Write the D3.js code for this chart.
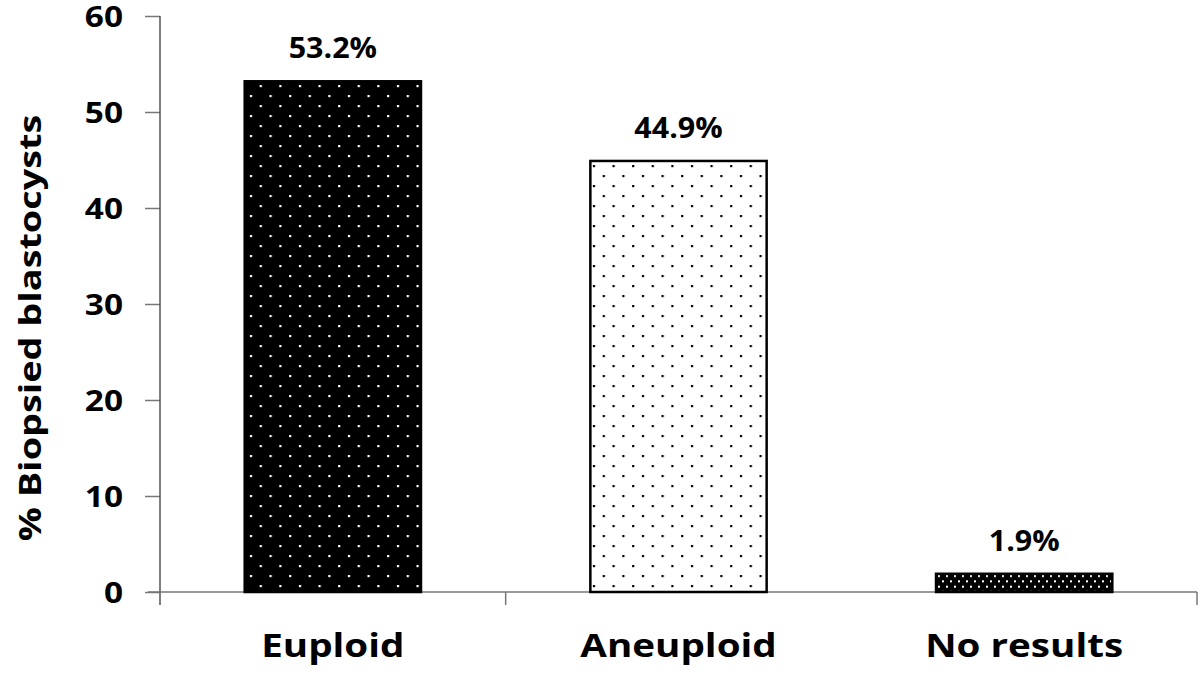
<!DOCTYPE html>
<html><head><meta charset="utf-8">
<script src="https://cdn.jsdelivr.net/npm/d3@7"></script>
<style>body{margin:0;background:#fff}svg{display:block}text{font-family:"Open Sans",Lato,sans-serif;font-weight:bold}</style>
</head><body><div id="c"></div>
<script>
const categories = ["Euploid", "Aneuploid", "No results"];
const values = [53.2, 44.9, 1.9];
const valueLabels = ["53.2%", "44.9%", "1.9%"];
const yTicks = [0, 10, 20, 30, 40, 50, 60];
const yTitle = "% Biopsied blastocysts";

const W = 1200, H = 676;
const m = {left: 160, right: 3, top: 16, bottom: 84};
const svg = d3.select("#c").append("svg").attr("width", W).attr("height", H);
const defs = svg.append("defs");
function pat(id, bg, fg, dx, dy, r) {
  const p = defs.append("pattern").attr("id", id).attr("patternUnits", "userSpaceOnUse")
    .attr("width", dx).attr("height", dy * 2);
  p.append("rect").attr("width", dx).attr("height", dy * 2).attr("fill", bg);
  p.append("rect").attr("x", dx / 4).attr("y", dy / 2).attr("width", r).attr("height", r).attr("fill", fg);
  p.append("rect").attr("x", dx * 3 / 4).attr("y", dy * 1.5).attr("width", r).attr("height", r).attr("fill", fg);
}
pat("p0", "#000", "#fff", 19.6, 10, 2.2);
pat("p1", "#fff", "#000", 19.6, 10, 2.2);
pat("p2", "#000", "#fff", 8, 5.3, 2);
const fills = ["url(#p0)", "url(#p1)", "url(#p2)"];

const x = d3.scaleBand().domain(categories).range([m.left, W - m.right]).paddingInner(0.49).paddingOuter(0.245);
const y = d3.scaleLinear().domain([0, 60]).range([H - m.bottom, m.top]);

// y axis
const ya = svg.append("g").attr("transform", `translate(${m.left},0)`)
  .call(d3.axisLeft(y).tickValues(yTicks).tickSize(15));
ya.select(".domain").remove();
ya.selectAll(".tick line").attr("stroke", "#777").attr("stroke-width", 1.5);
ya.selectAll(".tick text").attr("x", 0).attr("dy", null).attr("y", 10)
  .attr("transform", "translate(-37,0) scale(1.15,1)")
  .attr("font-size", 29).attr("fill", "#000");
svg.append("line").attr("x1", m.left).attr("x2", m.left).attr("y1", y(60)).attr("y2", y(0) + 13)
  .attr("stroke", "#555").attr("stroke-width", 1.5);

// x axis
svg.append("line").attr("x1", m.left - 12).attr("x2", W - m.right).attr("y1", y(0)).attr("y2", y(0))
  .attr("stroke", "#777").attr("stroke-width", 1.5);
const step = x.step();
const bounds = categories.map((c, i) => x(c) - x.paddingOuter() * step + (i + 1) * step);
svg.selectAll(".xt").data(bounds).enter().append("line")
  .attr("x1", d => d).attr("x2", d => d).attr("y1", y(0)).attr("y2", y(0) + 13)
  .attr("stroke", "#777").attr("stroke-width", 1.5);
svg.selectAll(".xl").data(categories).enter().append("text")
  .attr("transform", d => `translate(${x(d) + x.bandwidth() / 2},${y(0) + 65}) scale(1.17,1)`)
  .attr("text-anchor", "middle").attr("font-size", 33).text(d => d);

// bars
svg.selectAll(".bar").data(values).enter().append("rect")
  .attr("x", (d, i) => x(categories[i])).attr("y", d => y(d))
  .attr("width", x.bandwidth()).attr("height", d => y(0) - y(d))
  .attr("fill", (d, i) => fills[i]).attr("stroke", "#000").attr("stroke-width", 2.5);

svg.selectAll(".vl").data(values).enter().append("text")
  .attr("transform", (d, i) => `translate(${x(categories[i]) + x.bandwidth() / 2},${y(d) - 23}) scale(1.05,1)`)
  .attr("text-anchor", "middle").attr("font-size", 29).text((d, i) => valueLabels[i]);

svg.append("text").attr("transform", `translate(41,328) rotate(-90) scale(1.22,1)`)
  .attr("text-anchor", "middle").attr("font-size", 31).text(yTitle);
</script></body></html>
